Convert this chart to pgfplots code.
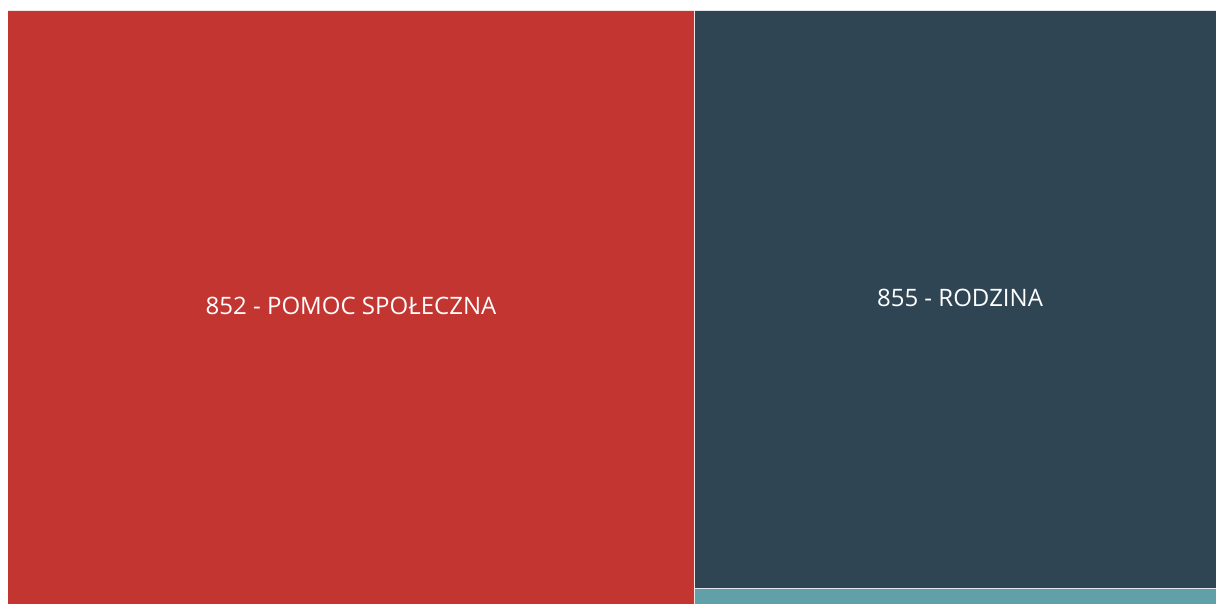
\documentclass[border=0pt]{standalone}
\usepackage{pgfplots}
\pgfplotsset{compat=1.18}
\usepackage{fontspec}
\setmainfont{Open Sans}
\definecolor{tmred}{HTML}{C23531}
\definecolor{tmnavy}{HTML}{2F4554}
\definecolor{tmteal}{HTML}{61A0A8}

\begin{document}
\begin{tikzpicture}
    \begin{axis}[
        width=1216pt,
        height=603pt,
        scale only axis,
        xmin=0, xmax=1216,
        ymin=0, ymax=603,
        hide axis,
        clip=false
    ]
    % 852 - Pomoc spoleczna
    \addplot [fill=tmred, draw=none] coordinates {
        (8,-2) (694,-2) (694,592) (8,592) (8,-2)
    };
    % 855 - Rodzina (runs off the right edge of the frame)
    \addplot [fill=tmnavy, draw=none] coordinates {
        (695,15) (1225,15) (1225,592) (695,592) (695,15)
    };
    % small remainder at the bottom
    \addplot [fill=tmteal, draw=none] coordinates {
        (695,-2) (1225,-2) (1225,14) (695,14) (695,-2)
    };
    \node [text=white, font=\fontsize{24}{28}\selectfont] at (axis cs:351,297) {852 - POMOC SPOŁECZNA};
    \node [text=white, font=\fontsize{24}{28}\selectfont] at (axis cs:960,305) {855 - RODZINA};
    \end{axis}
    % page = the reference's frame, white margin included
    \pgfresetboundingbox
    \path [use as bounding box] (0,0) rectangle (1216pt,603pt);
\end{tikzpicture}
\end{document}
